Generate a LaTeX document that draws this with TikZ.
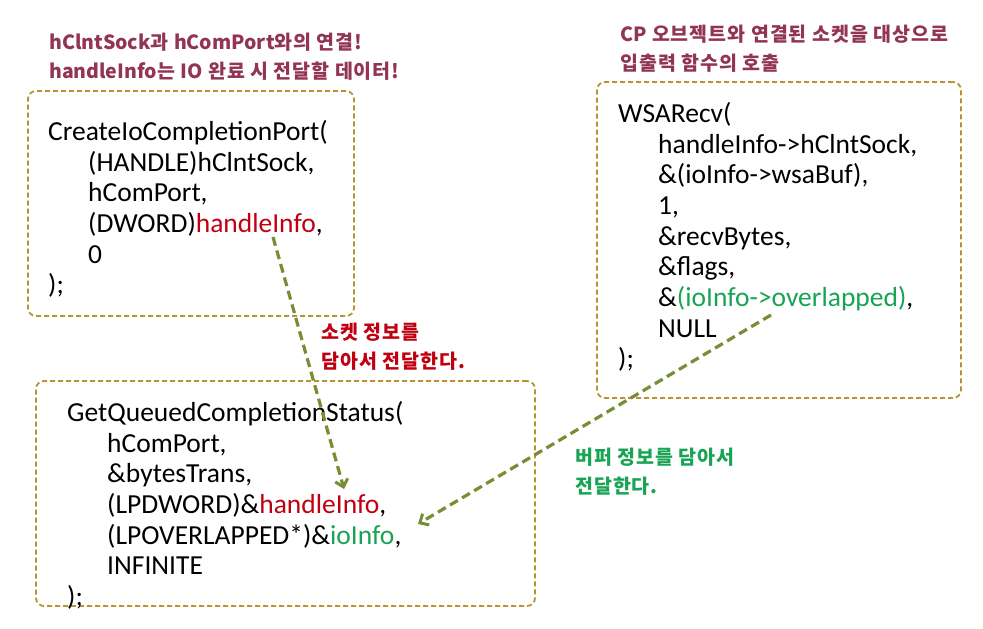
\documentclass[tikz,border=0pt]{standalone}
\usepackage{fontspec}
\setmainfont{Carlito}
\newfontfamily\kr{Noto Sans CJK KR}[LetterSpace=5]
\newfontfamily\krl{Noto Sans CJK KR}
\usetikzlibrary{arrows.meta}
\definecolor{boxgold}{RGB}{184,148,48}
\definecolor{arrowolive}{RGB}{118,142,52}
\definecolor{titlepurple}{RGB}{146,52,86}
\definecolor{codered}{RGB}{192,0,16}
\definecolor{codegreen}{RGB}{24,164,84}
\tikzset{
  codebox/.style={draw=boxgold, line width=1.8pt, dash pattern=on 5pt off 3pt,
    rounded corners=8pt, rectangle, inner sep=0pt},
  code/.style={anchor=north west, align=left, inner sep=0pt,
    font=\fontsize{27.5}{30.7}\selectfont},
  title/.style={anchor=north west, align=left, inner sep=0pt,
    font=\kr\bfseries\fontsize{19.5}{29}\selectfont, text=titlepurple},
  note/.style={anchor=north west, align=left, inner sep=0pt,
    font=\kr\bfseries\fontsize{19.5}{28.5}\selectfont},
  flow/.style={draw=arrowolive, line width=3.2pt, dash pattern=on 9pt off 5pt,
    -{Straight Barb[length=7pt,width=13pt,line width=3pt]}}
}
\newcommand{\ind}{\hspace*{40pt}}
\newcommand{\lat}[1]{{\krl\bfseries #1}}
\begin{document}
\begin{tikzpicture}[x=1pt,y=-1pt]
\useasboundingbox (0,0) rectangle (983,629);
% boxes
\node[codebox, minimum width=326pt, minimum height=225pt] (b1) at (191,203.5) {};
\node[codebox, minimum width=364pt, minimum height=316pt] (b2) at (779,240) {};
\node[codebox, minimum width=499pt, minimum height=225pt] (b3) at (285.5,493.5) {};
% titles
\node[title] (t1) at (49,33) {\lat{hClntSock}과 \lat{hComPort}와의 연결!\\\lat{handleInfo}는 \lat{IO} 완료 시 전달할 데이터!};
\node[title] (t2) at (620,25) {\lat{CP} 오브젝트와 연결된 소켓을 대상으로\\입출력 함수의 호출};
% code
\node[code] (c1) at (48,120) {CreateIoCompletionPort(\\
\ind(HANDLE)hClntSock,\\
\ind hComPort,\\
\ind(DWORD)\textcolor{codered}{handleInfo},\\
\ind 0\\
);};
\node[code] (c2) at (618,102) {WSARecv(\\
\ind handleInfo->hClntSock,\\
\ind\&(ioInfo->wsaBuf),\\
\ind 1,\\
\ind\&recvBytes,\\
\ind\&flags,\\
\ind\&\textcolor{codegreen}{(ioInfo->overlapped)},\\
\ind NULL\\
);};
\node[code] (c3) at (67,401) {GetQueuedCompletionStatus(\\
\ind hComPort,\\
\ind\&bytesTrans,\\
\ind(LPDWORD)\&\textcolor{codered}{handleInfo},\\
\ind(LPOVERLAPPED*)\&\textcolor{codegreen}{ioInfo},\\
\ind INFINITE\\
);};
% notes
\node[note, text=codered] (n1) at (321,323) {소켓 정보를\\담아서 전달한다.};
\node[note, text=codegreen] (n2) at (575,448) {버퍼 정보를 담아서\\전달한다.};
% arrows
\coordinate (a1s) at (273,237);
\coordinate (a1e) at (344,489);
\coordinate (a2s) at (771,315);
\coordinate (a2e) at (418,524);
\draw[flow] (a1s) -- (a1e);
\draw[flow] (a2s) -- (a2e);
\end{tikzpicture}
\end{document}
